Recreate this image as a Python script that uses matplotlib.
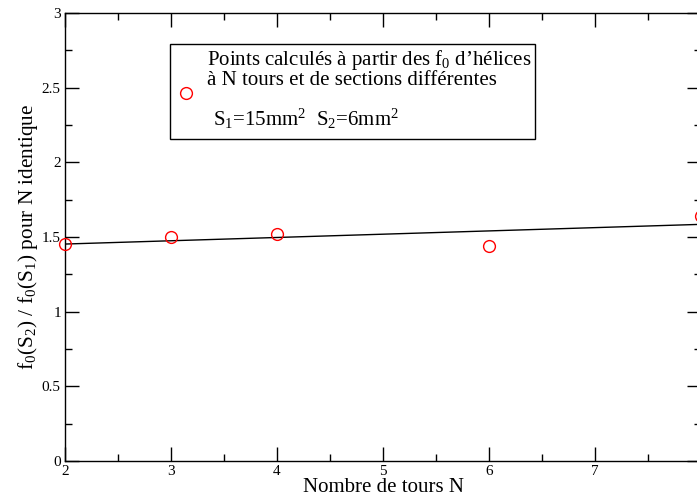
import numpy as np
import matplotlib
matplotlib.use("Agg")
import matplotlib.pyplot as plt
from matplotlib.patches import Rectangle
from matplotlib.ticker import MultipleLocator

plt.rcParams["font.family"] = ["Liberation Serif", "DejaVu Serif"]
plt.rcParams["mathtext.fontset"] = "custom"
plt.rcParams["mathtext.rm"] = "Liberation Serif"
plt.rcParams["mathtext.it"] = "Liberation Serif"

# frequency ratio f0(S2)/f0(S1) versus number of turns
tours = np.array([2, 3, 4, 6, 8])
rapport = np.array([1.45, 1.50, 1.52, 1.44, 1.64])
xtick_labels = ["2", "3", "4", "5", "6", "7", ""]
ytick_labels = ["0", "0.5", "1", "1.5", "2", "2.5", "3"]

fig = plt.figure(figsize=(6.97, 5.04), dpi=100)
ax = fig.add_axes([65 / 697, 43 / 504, 636 / 697, 448 / 504])

# least-squares straight line through the points
pente, origine = np.polyfit(tours, rapport, 1)
xs = np.array([2.0, 8.0])
ax.plot(xs, origine + pente * xs, color="black", lw=1.0, zorder=2)
ax.plot(tours, rapport, "o", mfc="none", mec="red", ms=8.5, mew=1.0,
        clip_on=False, zorder=3)

ax.set_xlim(2, 8)
ax.set_ylim(0, 3)
ax.set_xticks(np.arange(2, 9))
ax.set_xticklabels(xtick_labels)
ax.xaxis.set_minor_locator(MultipleLocator(0.5))
ax.set_yticks(np.arange(0, 3.01, 0.5))
ax.set_yticklabels(ytick_labels)
ax.yaxis.set_minor_locator(MultipleLocator(0.25))
ax.tick_params(which="both", direction="in", top=True, right=True,
               labelsize=11, pad=3)
ax.tick_params(which="major", length=10, width=1)
ax.tick_params(which="minor", length=5, width=1)
for sp in ax.spines.values():
    sp.set_linewidth(1.0)

ax.set_xlabel("Nombre de tours N", fontsize=15, labelpad=0)
ax.set_ylabel(r"$\mathregular{f_0(S_2)\ /\ f_0(S_1)}$ pour N identique",
              fontsize=15.3, labelpad=1)

# legend box drawn by hand
px = lambda x, y: (x / 697, 1 - y / 504)
fig.patches.append(Rectangle(px(170, 139), 365 / 697, 95 / 504,
                             transform=fig.transFigure, fill=False,
                             edgecolor="black", lw=1.0))
fig.lines.append(plt.Line2D([186 / 697], [1 - 93 / 504], marker="o",
                            mfc="none", mec="red", ms=8.5, mew=1.0,
                            transform=fig.transFigure))
fig.text(*px(207, 65), r"Points calculés à partir des $\mathregular{f_0}$ d’hélices",
         fontsize=15, va="baseline")
fig.text(*px(207, 85), "à N tours et de sections différentes",
         fontsize=15, va="baseline")
fig.text(*px(213, 126),
         r"$\mathregular{S_1}$=15mm$^\mathregular{2}$  $\mathregular{S_2}$=6mm$^\mathregular{2}$",
         fontsize=15, va="baseline")

fig.savefig("out.png", dpi=100)
